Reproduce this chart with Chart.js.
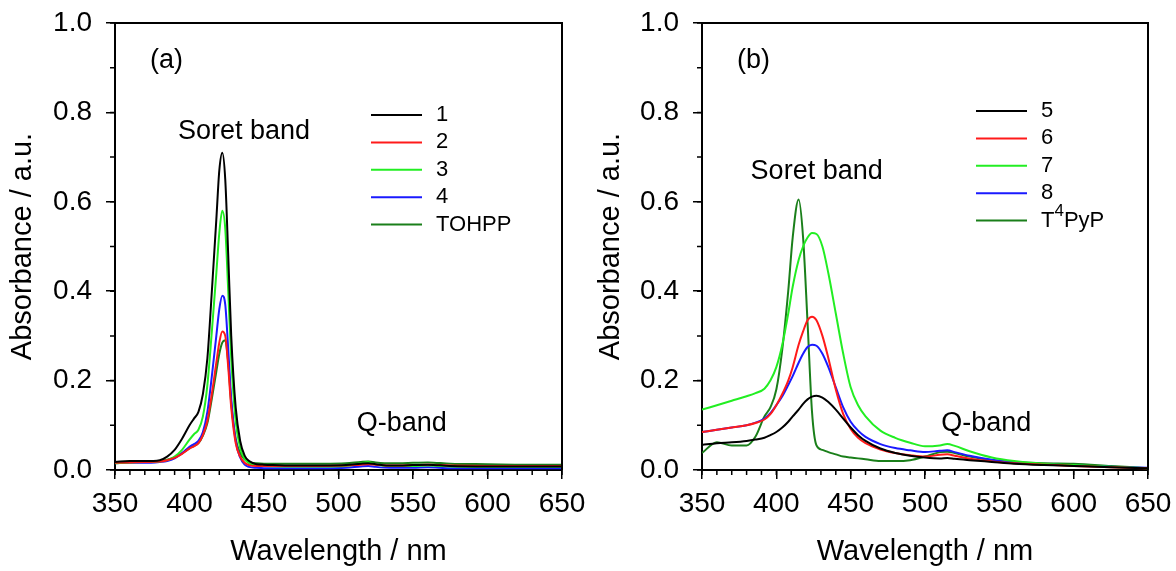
<!DOCTYPE html>
<html>
<head>
<meta charset="utf-8">
<script src="https://cdn.jsdelivr.net/npm/chart.js@4.4.1/dist/chart.umd.min.js"></script>
<style>
  body { margin: 0; background: #fff; }
  .panel { position: absolute; top: 0; width: 588px; height: 571px; }
  #panelA { left: 0; }
  #panelB { left: 588px; }
</style>
</head>
<body>
<div class="panel" id="panelA"><canvas id="chartA"></canvas></div>
<div class="panel" id="panelB"><canvas id="chartB"></canvas></div>
<script>
// wavelengths (nm) for panel (a)
const wlA = [350,360,370,380,385,390,395,400,403,406,409,412,415,418,420,422,424,426,428,431,434,437,440,445,450,470,490,505,515,520,525,535,550,560,575,600,625,650];
const abs1 = [.018,.02,.02,.022,.03,.045,.07,.1,.115,.13,.17,.25,.4,.56,.67,.71,.65,.48,.3,.14,.065,.032,.02,.013,.012,.01,.01,.011,.014,.015,.013,.01,.011,.012,.009,.008,.008,.008];
const abs2 = [.016,.017,.018,.019,.022,.027,.036,.048,.053,.06,.078,.11,.17,.24,.285,.31,.3,.23,.14,.06,.03,.016,.011,.009,.009,.009,.009,.01,.012,.013,.012,.01,.011,.012,.01,.009,.009,.009];
const abs3 = [.015,.017,.018,.019,.022,.03,.045,.068,.08,.09,.12,.19,.31,.44,.53,.58,.54,.4,.25,.11,.05,.025,.015,.01,.009,.008,.008,.009,.015,.018,.012,.009,.009,.01,.008,.007,.007,.007];
const abs4 = [.015,.016,.016,.018,.02,.026,.038,.052,.058,.065,.085,.13,.21,.3,.36,.39,.37,.27,.16,.065,.028,.012,.007,.005,.004,.004,.004,.005,.008,.009,.007,.005,.005,.006,.004,.004,.004,.004];
const absTOHPP = [.017,.019,.019,.02,.023,.028,.037,.049,.054,.06,.077,.105,.16,.22,.26,.285,.29,.24,.15,.07,.038,.024,.018,.015,.014,.014,.014,.015,.018,.019,.017,.015,.016,.017,.014,.013,.012,.012];

// wavelengths (nm) for panel (b)
const wlB = [350,360,370,380,386,392,396,400,404,408,411,415,418,421,424,427,431,435,440,445,450,455,460,470,480,490,500,510,515,520,530,545,560,580,600,625,650];
const abs5 = [.056,.06,.062,.065,.068,.072,.078,.085,.095,.108,.12,.135,.148,.158,.164,.166,.162,.152,.135,.115,.095,.078,.065,.048,.038,.032,.028,.026,.027,.025,.022,.018,.014,.011,.009,.006,.004];
const abs6 = [.085,.09,.095,.1,.105,.113,.125,.145,.17,.2,.23,.28,.31,.335,.343,.335,.3,.25,.18,.125,.092,.072,.06,.046,.038,.033,.03,.034,.035,.032,.025,.019,.015,.012,.009,.006,.004];
const abs7 = [.135,.145,.155,.165,.172,.182,.2,.23,.28,.35,.41,.47,.5,.52,.53,.528,.5,.44,.35,.26,.185,.145,.12,.088,.072,.061,.053,.055,.058,.054,.042,.028,.02,.014,.011,.007,.004];
const abs8 = [.085,.09,.095,.1,.106,.115,.127,.145,.165,.19,.21,.24,.26,.275,.28,.278,.26,.23,.185,.14,.108,.088,.074,.058,.049,.044,.04,.043,.044,.04,.032,.023,.017,.013,.01,.007,.005];
const absT4PyP = [.038,.062,.055,.055,.075,.12,.14,.18,.27,.4,.52,.605,.52,.33,.13,.055,.045,.04,.035,.03,.028,.026,.024,.02,.02,.022,.03,.04,.041,.038,.03,.022,.018,.015,.014,.009,.004];

const namesA = ['1', '2', '3', '4', 'TOHPP'];
const namesB = ['5', '6', '7', '8', 'T⁴PyP'];
const colors = ['#000000', '#ff1a1a', '#22ee22', '#1a1aff', '#1a7f1a'];

const xTicks = [350, 400, 450, 500, 550, 600, 650];
const yTicks = [0, 0.2, 0.4, 0.6, 0.8, 1.0];

const FONT = '"Liberation Sans", Arial, sans-serif';

function drawLabel(ctx, text, x, y) {
  const parts = text.split('⁴');
  let cx = x;
  parts.forEach((p, i) => {
    ctx.font = '22px ' + FONT;
    ctx.fillText(p, cx, y);
    cx += ctx.measureText(p).width;
    if (i < parts.length - 1) {
      ctx.font = '17px ' + FONT;
      ctx.fillText('4', cx, y - 9);
      cx += ctx.measureText('4').width;
    }
  });
}

const panelDecor = {
  id: 'panelDecor',
  afterDraw(chart, args, opts) {
    const ctx = chart.ctx;
    const area = chart.chartArea;
    const xs = chart.scales.x, ys = chart.scales.y;
    ctx.save();
    // frame top + right
    ctx.strokeStyle = '#000';
    ctx.lineWidth = 2;
    ctx.beginPath();
    ctx.moveTo(area.left, area.top);
    ctx.lineTo(area.right, area.top);
    ctx.lineTo(area.right, area.bottom);
    ctx.stroke();
    // minor ticks
    ctx.lineWidth = 1.5;
    ctx.beginPath();
    for (let v = 350; v <= 650; v += 10) {
      const px = xs.getPixelForValue(v);
      ctx.moveTo(px, area.bottom);
      ctx.lineTo(px, area.bottom + 5);
    }
    for (let k = 0; k <= 10; k++) {
      const py = ys.getPixelForValue(k / 10);
      ctx.moveTo(area.left, py);
      ctx.lineTo(area.left - 5, py);
    }
    ctx.stroke();
    // notes
    ctx.fillStyle = '#000';
    ctx.textBaseline = 'middle';
    ctx.textAlign = 'left';
    ctx.font = '27px ' + FONT;
    opts.notes.forEach(n => {
      ctx.fillText(n.text, xs.getPixelForValue(n.x), ys.getPixelForValue(n.y));
    });
    // legend
    chart.data.datasets.forEach((ds, i) => {
      const y = area.top + opts.legendTop + i * opts.legendStep;
      const x0 = area.left + opts.legendLeft;
      ctx.strokeStyle = ds.borderColor;
      ctx.lineWidth = 2;
      ctx.beginPath();
      ctx.moveTo(x0, y);
      ctx.lineTo(x0 + 51, y);
      ctx.stroke();
      ctx.fillStyle = '#000';
      drawLabel(ctx, ds.label, x0 + 65, y);
    });
    ctx.restore();
  }
};

function noPad(s) {
  s.paddingTop = 0; s.paddingBottom = 0; s.paddingLeft = 0; s.paddingRight = 0;
}

function makeChart(id, wl, series, names, notes, axisLeft, padRight, legendLeft, legendTop) {
  const datasets = series.map((vals, i) => ({
    label: names[i],
    data: wl.map((w, j) => ({ x: w, y: vals[j] })),
    borderColor: colors[i],
    borderWidth: 2,
    pointRadius: 0,
    cubicInterpolationMode: 'monotone',
    fill: false
  }));
  return new Chart(document.getElementById(id), {
    type: 'line',
    data: { datasets },
    plugins: [panelDecor],
    options: {
      responsive: true,
      maintainAspectRatio: false,
      animation: false,
      layout: { padding: { top: 23, right: padRight, left: 0, bottom: 0 } },
      plugins: {
        legend: { display: false },
        tooltip: { enabled: false },
        panelDecor: { notes, legendLeft, legendTop, legendStep: 27.4 }
      },
      scales: {
        x: {
          type: 'linear',
          min: 350, max: 650,
          afterFit: s => { s.height = 101; noPad(s); },
          afterBuildTicks: s => { s.ticks = xTicks.map(v => ({ value: v })); },
          ticks: { color: '#000', font: { size: 28, family: FONT }, padding: 8, maxRotation: 0 },
          grid: { drawOnChartArea: false, tickLength: 9, color: '#000', lineWidth: 1.5 },
          border: { color: '#000', width: 2 },
          title: { display: true, text: 'Wavelength / nm', color: '#000', font: { size: 29, family: FONT }, padding: { top: 0, bottom: 2 } }
        },
        y: {
          type: 'linear',
          min: 0, max: 1,
          afterFit: s => { s.width = axisLeft; noPad(s); },
          afterBuildTicks: s => { s.ticks = yTicks.map(v => ({ value: v })); },
          ticks: { color: '#000', font: { size: 28, family: FONT }, padding: 14, callback: v => v.toFixed(1) },
          grid: { drawOnChartArea: false, tickLength: 9, color: '#000', lineWidth: 1.5 },
          border: { color: '#000', width: 2 },
          title: { display: true, text: 'Absorbance / a.u.', color: '#000', font: { size: 29, family: FONT }, padding: { top: 6, bottom: 0 } }
        }
      }
    }
  });
}

makeChart('chartA', wlA, [abs1, abs2, abs3, abs4, absTOHPP], namesA,
  [{ text: '(a)', x: 373.5, y: 0.915 }, { text: 'Soret band', x: 392.3, y: 0.758 }, { text: 'Q-band', x: 512.2, y: 0.103 }],
  115, 26, 256, 92);
makeChart('chartB', wlB, [abs5, abs6, abs7, abs8, absT4PyP], namesB,
  [{ text: '(b)', x: 373.5, y: 0.915 }, { text: 'Soret band', x: 382.7, y: 0.667 }, { text: 'Q-band', x: 510.9, y: 0.103 }],
  114, 28, 274, 88);
</script>
</body>
</html>
